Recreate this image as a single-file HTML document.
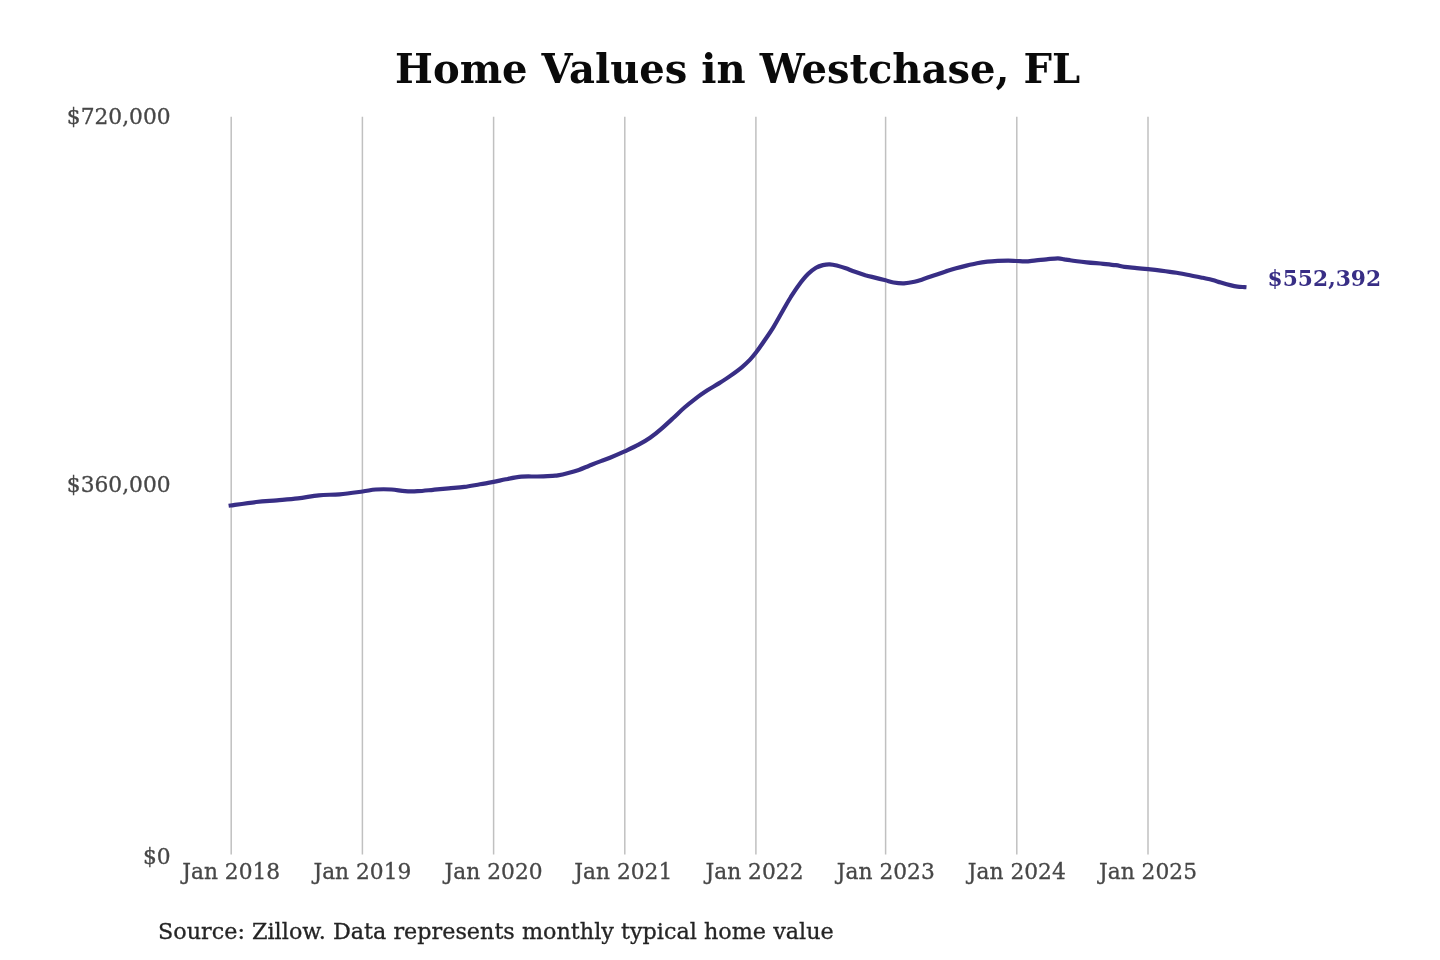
<!DOCTYPE html>
<html><head><meta charset="utf-8"><title>Home Values in Westchase, FL</title>
<style>
html,body{margin:0;padding:0;background:#fff;}
svg{display:block;font-family:"DejaVu Serif","Liberation Serif",serif;}
.grid line{stroke:#c0c0c0;stroke-width:1.5;}
.tick text{font-size:21.75px;fill:#474747;stroke:#474747;stroke-width:0.3px;}
.title{font-size:40.1px;font-weight:bold;fill:#0a0a0a;}
.val{font-size:21.75px;font-weight:bold;fill:#382e85;}
.src{font-size:22.3px;fill:#242424;stroke:#242424;stroke-width:0.3px;}
.curve{fill:none;stroke:#382e85;stroke-width:4.2;stroke-linecap:square;stroke-linejoin:round;}
</style></head><body>
<svg width="1440" height="960" viewBox="0 0 1440 960">
<rect width="1440" height="960" fill="#fff"/>
<text class="title" x="737.6" y="83.1" text-anchor="middle">Home Values in Westchase, FL</text>
<g class="grid"><line x1="231.2" y1="116.7" x2="231.2" y2="854.4"/><line x1="362.4" y1="116.7" x2="362.4" y2="854.4"/><line x1="493.6" y1="116.7" x2="493.6" y2="854.4"/><line x1="624.8" y1="116.7" x2="624.8" y2="854.4"/><line x1="755.9" y1="116.7" x2="755.9" y2="854.4"/><line x1="885.6" y1="116.7" x2="885.6" y2="854.4"/><line x1="1016.8" y1="116.7" x2="1016.8" y2="854.4"/><line x1="1148.0" y1="116.7" x2="1148.0" y2="854.4"/></g>
<g class="tick">
<text x="170.6" y="124" text-anchor="end">$720,000</text>
<text x="170.6" y="492" text-anchor="end">$360,000</text>
<text x="170.6" y="863.5" text-anchor="end">$0</text>
<text x="231.2" y="879.4" text-anchor="middle">Jan 2018</text><text x="362.4" y="879.4" text-anchor="middle">Jan 2019</text><text x="493.6" y="879.4" text-anchor="middle">Jan 2020</text><text x="623.3" y="879.4" text-anchor="middle">Jan 2021</text><text x="754.5" y="879.4" text-anchor="middle">Jan 2022</text><text x="885.8" y="879.4" text-anchor="middle">Jan 2023</text><text x="1016.8" y="879.4" text-anchor="middle">Jan 2024</text><text x="1148.0" y="879.4" text-anchor="middle">Jan 2025</text>
</g>
<path class="curve" d="M230.7,505.5 C235.0,504.9 248.5,502.9 256.2,502.0 C264.0,501.1 270.0,500.9 277.0,500.3 C284.0,499.7 291.0,499.2 298.0,498.4 C305.0,497.6 311.8,496.0 318.8,495.3 C325.7,494.6 332.3,494.9 339.6,494.3 C346.9,493.7 356.5,492.3 362.5,491.5 C368.5,490.7 371.0,489.8 375.8,489.5 C380.6,489.2 386.6,489.2 391.5,489.5 C396.4,489.8 400.7,491.0 405.0,491.2 C409.3,491.5 412.8,491.5 417.5,491.2 C422.2,491.0 427.9,490.3 433.1,489.8 C438.3,489.3 443.5,488.9 448.8,488.4 C454.0,487.9 459.2,487.6 464.4,486.9 C469.6,486.2 475.1,485.1 480.0,484.3 C484.9,483.5 489.2,482.7 493.5,481.9 C497.8,481.1 501.1,480.2 505.8,479.3 C510.5,478.4 516.3,477.2 521.5,476.7 C526.7,476.2 531.9,476.6 537.1,476.5 C542.3,476.4 549.2,476.0 552.7,475.8 C556.2,475.6 555.3,475.9 557.9,475.4 C560.5,474.9 564.8,473.9 568.3,473.0 C571.8,472.1 575.3,471.1 578.8,469.9 C582.2,468.7 585.7,467.1 589.2,465.7 C592.7,464.3 596.1,462.9 599.6,461.6 C603.1,460.3 605.8,459.4 610.0,457.7 C614.2,456.0 619.8,453.6 624.6,451.4 C629.4,449.2 634.4,447.0 638.6,444.7 C642.9,442.4 646.3,440.5 650.1,437.8 C653.9,435.1 657.8,431.9 661.6,428.6 C665.4,425.4 669.2,421.8 673.0,418.3 C676.8,414.8 680.7,410.8 684.5,407.5 C688.3,404.2 692.1,401.2 695.9,398.3 C699.7,395.4 703.6,392.8 707.4,390.3 C711.2,387.8 715.1,385.8 718.9,383.4 C722.7,381.0 726.5,378.6 730.3,375.9 C734.1,373.2 738.5,370.0 741.8,367.3 C745.0,364.6 747.4,362.4 749.8,359.9 C752.2,357.4 753.5,355.7 756.0,352.5 C758.5,349.3 761.6,344.8 764.5,340.5 C767.4,336.2 770.6,331.8 773.6,326.8 C776.6,321.8 779.9,315.7 782.8,310.7 C785.7,305.7 788.1,301.3 790.8,297.0 C793.5,292.7 796.0,288.7 798.9,284.9 C801.8,281.1 805.1,277.0 808.0,274.1 C810.9,271.2 813.5,269.3 816.0,267.8 C818.5,266.3 820.6,265.7 822.9,265.1 C825.2,264.5 827.5,264.2 829.8,264.3 C832.1,264.4 834.0,264.8 836.7,265.5 C839.4,266.2 842.8,267.2 845.8,268.3 C848.8,269.4 851.8,270.7 855.0,271.8 C858.2,272.9 861.7,274.1 865.3,275.2 C868.9,276.2 873.4,277.2 876.8,278.1 C880.2,279.0 882.7,279.6 885.5,280.3 C888.3,281.0 890.5,282.0 893.6,282.5 C896.7,283.0 900.5,283.4 904.0,283.3 C907.5,283.2 911.0,282.6 914.5,281.8 C918.0,281.0 921.4,279.7 924.9,278.6 C928.4,277.5 931.8,276.2 935.3,275.0 C938.8,273.8 942.2,272.5 945.7,271.4 C949.2,270.3 952.6,269.2 956.1,268.2 C959.6,267.2 963.0,266.4 966.5,265.6 C970.0,264.8 973.5,264.0 977.0,263.3 C980.5,262.6 983.9,262.1 987.4,261.7 C990.9,261.3 994.3,261.1 997.8,260.9 C1001.3,260.7 1005.1,260.7 1008.2,260.7 C1011.3,260.7 1013.6,260.9 1016.5,261.0 C1019.4,261.1 1022.3,261.5 1025.6,261.4 C1028.8,261.3 1032.5,260.6 1036.0,260.3 C1039.5,260.0 1042.8,259.6 1046.5,259.3 C1050.2,259.0 1055.0,258.4 1057.9,258.4 C1060.9,258.4 1062.2,259.0 1064.2,259.3 C1066.2,259.6 1066.2,259.8 1070.0,260.2 C1073.8,260.8 1081.2,261.7 1086.7,262.3 C1092.2,262.9 1098.5,263.3 1103.3,263.8 C1108.1,264.3 1112.3,264.7 1115.8,265.2 C1119.3,265.7 1120.9,266.4 1124.4,266.9 C1127.9,267.4 1132.8,267.7 1136.7,268.1 C1140.6,268.5 1144.0,268.8 1148.0,269.2 C1152.0,269.6 1156.0,270.0 1160.8,270.6 C1165.5,271.2 1171.6,272.0 1176.5,272.8 C1181.4,273.6 1185.7,274.4 1190.0,275.2 C1194.3,276.0 1198.8,277.0 1202.5,277.8 C1206.2,278.6 1209.5,279.2 1212.5,280.0 C1215.5,280.8 1217.7,281.6 1220.8,282.5 C1223.9,283.4 1228.5,284.7 1231.2,285.4 C1234.0,286.1 1235.3,286.3 1237.5,286.6 C1239.7,286.9 1243.2,287.0 1244.4,287.1"/>
<text class="val" x="1267.6" y="285.9">$552,392</text>
<text class="src" x="158" y="938.7">Source: Zillow. Data represents monthly typical home value</text>
</svg>
</body></html>
